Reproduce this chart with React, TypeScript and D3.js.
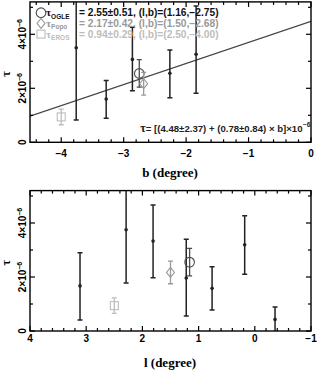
import * as d3 from 'd3';

// top panel: tau vs galactic latitude b
const bFieldB = [-3.76, -3.28, -2.86, -2.26, -1.84];
const bFieldTau = [3.5, 1.6, 3.07, 2.56, 3.26];
const bFieldLo = [0.83, 0.89, 1.91, 1.65, 1.82];
const bFieldHi = [6.17, 2.29, 4.26, 3.42, 5.05];

// bottom panel: tau vs galactic longitude l
const lFieldL = [3.11, 2.29, 1.81, 1.22, 0.76, 0.18, -0.36];
const lFieldTau = [1.67, 3.75, 3.33, 1.96, 1.58, 3.19, 0.43];
const lFieldLo = [0.41, 1.78, 1.97, 0.56, 0.78, 2.1, -0.05];
const lFieldHi = [2.9, 5.72, 4.67, 3.4, 2.38, 4.27, 0.89];

// survey measurements
const surveys = ['OGLE', 'Popo', 'EROS'];
const surveyL = [1.16, 1.5, 2.5];
const surveyB = [-2.75, -2.68, -4.0];
const surveyTau = [2.55, 2.17, 0.94];
const surveyErr = [0.51, 0.42, 0.29];
const surveyColor = ['#4a4a4a', '#9a9a9a', '#bdbdbd'];
const legendColor = ['#111', '#9a9a9a', '#bdbdbd'];

// linear fit tau = a + c*b
const fitA = 4.48;
const fitAErr = 2.37;
const fitC = 0.78;
const fitCErr = 0.84;

const xTickB = [-4, -3, -2, -1, 0];
const xTickL = [4, 3, 2, 1, 0, -1];
const yTicks = [0, 2, 4];

const sans = 'Liberation Sans, Arial, sans-serif';
const serif = 'Liberation Serif, Times New Roman, serif';

const fmt = (v: number, d = 0) => (v < 0 ? '\u2212' : '') + Math.abs(v).toFixed(d);

type Scale = d3.ScaleLinear<number, number>;

function Frame({ x, y, id }: { x: Scale; y: Scale; id: string }) {
  const [x0, x1] = x.range();
  const [y0, y1] = y.range();
  const left = Math.min(x0, x1), right = Math.max(x0, x1);
  const bottom = y0, top = y1;
  const xd = x.domain();
  const xMin = Math.min(xd[0], xd[1]), xMax = Math.max(xd[0], xd[1]);
  const xMinor = d3.range(Math.ceil(xMin * 5), Math.floor(xMax * 5) + 1).map(d => d / 5);
  const yMinor = d3.range(0, Math.floor(y.domain()[1]) + 1);
  const isMajorX = (v: number) => Math.abs(v - Math.round(v)) < 1e-6;
  return (
    <g>
      <clipPath id={id}>
        <rect x={left} y={top} width={right - left} height={bottom - top} />
      </clipPath>
      {xMinor.map((v, i) => {
        const len = isMajorX(v) ? 5 : 3;
        return (
          <g key={'xt' + i} stroke="#000" strokeWidth={1.2}>
            <line x1={x(v)} x2={x(v)} y1={bottom} y2={bottom - len} />
            <line x1={x(v)} x2={x(v)} y1={top} y2={top + len} />
          </g>
        );
      })}
      {yMinor.map((v, i) => {
        const len = v % 2 === 0 ? 5 : 3;
        return (
          <g key={'yt' + i} stroke="#000" strokeWidth={1.2}>
            <line x1={left} x2={left + len} y1={y(v)} y2={y(v)} />
            <line x1={right} x2={right - len} y1={y(v)} y2={y(v)} />
          </g>
        );
      })}
      <rect x={left} y={top} width={right - left} height={bottom - top} fill="none" stroke="#000" strokeWidth={1.4} />
      {yTicks.map(v => (
        <text
          key={'yl' + v}
          transform={`translate(25.5,${y(v)}) rotate(-90)`}
          textAnchor="middle"
          fontFamily={sans}
          fontWeight="bold"
          fontSize={10}
        >
          {v === 0 ? '0' : (
            <>
              {v}×10<tspan fontSize={7} dy={-4}>−6</tspan>
            </>
          )}
        </text>
      ))}
      <text
        transform={`translate(9.5,${(top + bottom) / 2 + 2}) rotate(-90)`}
        textAnchor="middle"
        fontFamily={serif}
        fontWeight="bold"
        fontSize={12}
      >
        τ
      </text>
    </g>
  );
}

function ErrBar({ x, lo, hi, yc, y, color, cap = 2.5 }: { x: number; lo: number; hi: number; yc: number; y: Scale; color: string; cap?: number }) {
  return (
    <g stroke={color} strokeWidth={1.5}>
      <line x1={x} x2={x} y1={y(lo)} y2={y(hi)} />
      <line x1={x - cap} x2={x + cap} y1={y(lo)} y2={y(lo)} />
      <line x1={x - cap} x2={x + cap} y1={y(hi)} y2={y(hi)} />
      <circle cx={x} cy={y(yc)} r={1.8} fill={color} stroke="none" />
    </g>
  );
}

function Marker({ kind, cx, cy, color }: { kind: number; cx: number; cy: number; color: string }) {
  if (kind === 0) return <circle cx={cx} cy={cy} r={4.8} fill="none" stroke={color} strokeWidth={1.1} />;
  if (kind === 1)
    return (
      <path d={`M${cx},${cy - 5}L${cx + 4},${cy}L${cx},${cy + 5}L${cx - 4},${cy}Z`} fill="none" stroke={color} strokeWidth={1.1} />
    );
  return <rect x={cx - 4} y={cy - 4} width={8} height={8} fill="none" stroke={color} strokeWidth={1.1} />;
}

function SurveyPoint({ i, pos, y }: { i: number; pos: number; y: Scale }) {
  const t = surveyTau[i], e = surveyErr[i];
  const c = surveyColor[i];
  return (
    <g>
      <g stroke={c} strokeWidth={1.3}>
        <line x1={pos} x2={pos} y1={y(t - e)} y2={y(t + e)} />
        <line x1={pos - 2.5} x2={pos + 2.5} y1={y(t - e)} y2={y(t - e)} />
        <line x1={pos - 2.5} x2={pos + 2.5} y1={y(t + e)} y2={y(t + e)} />
      </g>
      <Marker kind={i} cx={pos} cy={y(t)} color={c} />
    </g>
  );
}

export default function App() {
  const xb = d3.scaleLinear().domain([-4.5, 0]).range([30, 311]);
  const yb = d3.scaleLinear().domain([0, 5.2]).range([142.3, 1.9]);
  const xl = d3.scaleLinear().domain([4, -1]).range([30, 311]);
  const yl = d3.scaleLinear().domain([0, 5.2]).range([331, 190.6]);

  const fitLine = d3.line<number>().x(d => xb(d)).y(d => yb(fitA + fitC * d));

  return (
    <svg width={318} height={370} style={{ position: 'absolute', left: 0, top: 0, background: '#fff' }}>
      {/* top panel */}
      <g clipPath="url(#clipB)">
        <path d={fitLine(xb.domain()) || ''} fill="none" stroke="#444" strokeWidth={1.3} />
        {bFieldB.map((b, i) => (
          <ErrBar key={'b' + i} x={xb(b)} lo={bFieldLo[i]} hi={bFieldHi[i]} yc={bFieldTau[i]} y={yb} color="#222" />
        ))}
        {surveys.map((s, i) => (
          <SurveyPoint key={'sb' + s} i={i} pos={xb(surveyB[i])} y={yb} />
        ))}
      </g>
      <Frame x={xb} y={yb} id="clipB" />
      {surveys.map((s, i) => {
        const cy = 12.7 + i * 10.7;
        return (
          <g key={'lg' + s}>
            <Marker kind={i} cx={41} cy={cy} color={surveyColor[i]} />
            <text x={46} y={cy + 3.5} fontFamily={sans} fontWeight="bold" fontSize={9.5} fill={legendColor[i]}>
              <tspan fontFamily={serif} fontSize={11}>τ</tspan>
              <tspan fontSize={6.5} dy={2.5}>{s}</tspan>
            </text>
            <text x={79} y={cy + 3.5} fontFamily={sans} fontWeight="bold" fontSize={10.2} fill={legendColor[i]}>
              {`= ${surveyTau[i].toFixed(2)}±${surveyErr[i].toFixed(2)}, (l,b)=(${surveyL[i].toFixed(2)},${fmt(surveyB[i], 2)})`}
            </text>
          </g>
        );
      })}
      <text x={302.5} y={132} textAnchor="end" fontFamily={sans} fontSize={9.6} fontWeight="600" fill="#222">
        <tspan fontFamily={serif} fontSize={12}>τ</tspan>= [({fitA.toFixed(2)}±{fitAErr.toFixed(2)}) + ({fitC.toFixed(2)}±{fitCErr.toFixed(2)}) × b]×10
      </text>
      <text x={303} y={127} fontFamily={sans} fontSize={6.5} fontWeight="600" fill="#222">−6</text>
      {xTickB.map(v => (
        <text key={'xb' + v} x={xb(v)} y={157} textAnchor="middle" fontFamily={sans} fontWeight="bold" fontSize={10}>
          {fmt(v)}
        </text>
      ))}
      <text x={170} y={177} textAnchor="middle" fontFamily={serif} fontWeight="bold" fontSize={13}>
        b (degree)
      </text>

      {/* bottom panel */}
      <g clipPath="url(#clipL)">
        {lFieldL.map((l, i) => (
          <ErrBar key={'l' + i} x={xl(l)} lo={lFieldLo[i]} hi={lFieldHi[i]} yc={lFieldTau[i]} y={yl} color="#222" />
        ))}
        {surveys.map((s, i) => (
          <SurveyPoint key={'sl' + s} i={i} pos={xl(surveyL[i])} y={yl} />
        ))}
      </g>
      <Frame x={xl} y={yl} id="clipL" />
      {xTickL.map(v => (
        <text key={'xl' + v} x={xl(v)} y={342} textAnchor="middle" fontFamily={sans} fontWeight="bold" fontSize={10}>
          {fmt(v)}
        </text>
      ))}
      <text x={170} y={367} textAnchor="middle" fontFamily={serif} fontWeight="bold" fontSize={13}>
        l (degree)
      </text>
    </svg>
  );
}
